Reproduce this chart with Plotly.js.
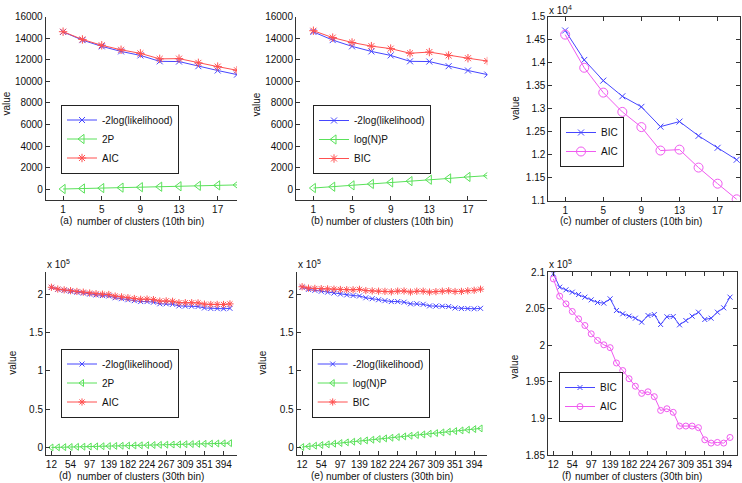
<!DOCTYPE html>
<html><head><meta charset="utf-8">
<script src="https://cdn.plot.ly/plotly-3.0.1.min.js"></script>
<style>html,body{margin:0;padding:0;background:#fff}#chart{width:742px;height:483px}</style>
</head><body><div id="chart"></div>
<script>
// ---------- data: 10th bin ----------
const clusters10 = [1,3,5,7,9,11,13,15,17,19];
const negLL10 = [14590,13830,13250,12780,12410,11860,11840,11410,11010,10630];
const twoP10  = [21,63,105,147,189,231,273,315,357,399];
const logNP10 = [110,230,360,490,630,750,880,1000,1140,1260];
const AIC10   = [14610,13890,13350,12930,12600,12090,12110,11720,11370,11030];
const BIC10   = [14700,14060,13610,13270,13040,12610,12720,12410,12150,11890];
const xTicks10 = [1,5,9,13,17];

// ---------- data: 30th bin ----------
const clusters30 = [12,26.14,40.29,54.43,68.57,82.71,96.86,111,125.14,139.29,153.43,167.57,181.71,195.86,210,
  224.14,238.29,252.43,266.57,280.71,294.86,309,323.14,337.29,351.43,365.57,379.71,393.86,408];
const negLL30 = [208930,206360,205110,203870,202660,201550,200200,199090,198300,197710,195410,194180,192860,191630,190450,
  190470,189600,187520,187540,186850,184770,184570,184370,183950,182090,181440,181330,181040,181610];
const twoP30 = [170,370,570,770,970,1170,1380,1580,1780,1980,2180,2380,2580,2780,2980,
  3180,3380,3580,3790,3990,4190,4390,4590,4790,4990,5190,5390,5590,5790];
const logNP30 = [740,1600,2470,3340,4200,5070,5940,6800,7670,8540,9400,10270,11140,12010,12870,
  13740,14610,15470,16340,17210,18080,18940,19810,20680,21540,22410,23280,24140,25010];
const AIC30 = [209100,206730,205680,204640,203630,202720,201580,200670,200080,199690,197590,196560,195440,194410,193430,
  193650,192980,191100,191330,190840,188960,188960,188960,188740,187080,186630,186720,186630,187400];
const BIC30 = [209790,207960,207600,207280,206960,206600,206230,205870,205780,206370,204770,204320,204000,203720,203180,
  204090,204220,202860,203910,203950,202810,203400,204000,204540,203540,203720,204540,205140,206600];
const xTickVals30 = [12,54.43,96.86,139.29,181.71,224.14,266.57,309,351.43,393.86];
const xTickText30 = ['12','54','97','139','182','224','267','309','351','394'];

// tick labels
const yTickVals1 = [0,2000,4000,6000,8000,10000,12000,14000,16000];
const yTickText1 = ['0','2000','4000','6000','8000','10000','12000','14000','16000'];
const yTickVals3 = [11000,11500,12000,12500,13000,13500,14000,14500,15000];
const yTickText3 = ['1.1','1.15','1.2','1.25','1.3','1.35','1.4','1.45','1.5'];
const yTickVals4 = [0,50000,100000,150000,200000];
const yTickText4 = ['0','0.5','1','1.5','2'];
const yTickVals6 = [185000,190000,195000,200000,205000,210000];
const yTickText6 = ['1.85','1.9','1.95','2','2.05','2.1'];

const W = 742, H = 483;
const px = v => v / W, py = v => 1 - v / H;
const BLUE = 'rgb(70,70,255)', GREEN = 'rgb(90,225,90)', RED = 'rgb(255,80,80)', MAG = 'rgb(240,90,240)';
const FONT = 'Liberation Sans, Arial, Helvetica, sans-serif';

function tr(x, y, name, color, symbol, size, ax, leg) {
  return {x: x, y: y, name: name, type: 'scatter', mode: 'lines+markers',
    line: {color: color, width: 1},
    marker: {symbol: symbol, size: size, color: color, line: {color: color, width: 1}},
    xaxis: 'x' + (ax === 1 ? '' : ax), yaxis: 'y' + (ax === 1 ? '' : ax),
    legend: leg};
}

const traces = [
  tr(clusters10, negLL10, '-2log(likelihood)', BLUE, 'x-thin-open', 6, 1, 'legend'),
  tr(clusters10, twoP10, '2P', GREEN, 'triangle-left-open', 8, 1, 'legend'),
  tr(clusters10, AIC10, 'AIC', RED, 'asterisk-open', 7, 1, 'legend'),

  tr(clusters10, negLL10, '-2log(likelihood)', BLUE, 'x-thin-open', 6, 2, 'legend2'),
  tr(clusters10, logNP10, 'log(N)P', GREEN, 'triangle-left-open', 8, 2, 'legend2'),
  tr(clusters10, BIC10, 'BIC', RED, 'asterisk-open', 7, 2, 'legend2'),

  tr(clusters10, BIC10, 'BIC', BLUE, 'x-thin-open', 6, 3, 'legend3'),
  tr(clusters10, AIC10, 'AIC', MAG, 'circle-open', 9, 3, 'legend3'),

  tr(clusters30, negLL30, '-2log(likelihood)', BLUE, 'x-thin-open', 5, 4, 'legend4'),
  tr(clusters30, twoP30, '2P', GREEN, 'triangle-left-open', 6, 4, 'legend4'),
  tr(clusters30, AIC30, 'AIC', RED, 'asterisk-open', 6, 4, 'legend4'),

  tr(clusters30, negLL30, '-2log(likelihood)', BLUE, 'x-thin-open', 5, 5, 'legend5'),
  tr(clusters30, logNP30, 'log(N)P', GREEN, 'triangle-left-open', 6, 5, 'legend5'),
  tr(clusters30, BIC30, 'BIC', RED, 'asterisk-open', 6, 5, 'legend5'),

  tr(clusters30, BIC30, 'BIC', BLUE, 'x-thin-open', 5, 6, 'legend6'),
  tr(clusters30, AIC30, 'AIC', MAG, 'circle-open', 6, 6, 'legend6')
];

function axis(domain, range, extra, box, anchor) {
  return Object.assign({
    domain: domain, range: range, anchor: anchor,
    showgrid: false, zeroline: false, showline: true, linecolor: '#333', linewidth: 1,
    ticks: 'inside', ticklen: 4, tickcolor: '#333', tickwidth: 1,
    mirror: box ? 'ticks' : false, tickangle: 0,
    tickfont: {family: FONT, size: 10, color: '#111'}, fixedrange: true
  }, extra);
}

const topY = [py(200), py(16.7)];
const botY = [py(454.5), py(272)];
const xRange10 = [-0.8, 19.0];
const xRange30 = [0, 423];

function legendAt(xl, yc) {
  return {x: px(xl), y: py(yc), xanchor: 'left', yanchor: 'middle',
    bgcolor: '#fff', bordercolor: '#222', borderwidth: 1,
    font: {family: FONT, size: 10, color: '#111'}, itemwidth: 30};
}

const ann = [];
function txt(x, y, t, opts) {
  ann.push(Object.assign({xref: 'paper', yref: 'paper', x: px(x), y: py(y), text: t, showarrow: false,
    font: {family: FONT, size: 10, color: '#111'}, xanchor: 'center', yanchor: 'middle'}, opts || {}));
}
// sub-labels and x titles
txt(66.3, 221, '(a)'); txt(140.5, 221.5, 'number of clusters (10th bin)');
txt(316.7, 221, '(b)'); txt(390, 221.5, 'number of clusters (10th bin)');
txt(565.5, 221, '(c)'); txt(638, 221.5, 'number of clusters (10th bin)');
txt(65.3, 475, '(d)'); txt(140, 476, 'number of clusters (30th bin)');
txt(316.7, 475, '(e)'); txt(390, 476, 'number of clusters (30th bin)');
txt(566, 475, '(f)'); txt(638.5, 476, 'number of clusters (30th bin)');
// y titles
txt(5.5, 104, 'value', {textangle: -90});
txt(255.5, 104, 'value', {textangle: -90});
txt(516, 108, 'value', {textangle: -90});
txt(11.7, 363, 'value', {textangle: -90});
txt(261.7, 363, 'value', {textangle: -90});
txt(515, 366.7, 'value', {textangle: -90});
// exponents
txt(546.7, 10, 'x 10<sup>4</sup>', {xanchor: 'left'});
txt(45, 264, 'x 10<sup>5</sup>', {xanchor: 'left'});
txt(295.7, 264, 'x 10<sup>5</sup>', {xanchor: 'left'});
txt(546.7, 264, 'x 10<sup>5</sup>', {xanchor: 'left'});

const layout = {
  width: W, height: H, margin: {l: 0, r: 0, t: 0, b: 0},
  paper_bgcolor: '#fff', plot_bgcolor: '#fff', showlegend: true,
  font: {family: FONT, size: 10, color: '#111'},
  xaxis:  axis([px(45.7), px(237)], xRange10, {tickvals: xTicks10}, false, 'y'),
  yaxis:  axis(topY, [-1000, 16000], {tickvals: yTickVals1, ticktext: yTickText1}, false, 'x'),
  xaxis2: axis([px(296), px(487.3)], xRange10, {tickvals: xTicks10}, false, 'y2'),
  yaxis2: axis(topY, [-1000, 16000], {tickvals: yTickVals1, ticktext: yTickText1}, false, 'x2'),
  xaxis3: axis([px(548.3), px(740)], [-0.77, 19.35], {tickvals: xTicks10}, true, 'y3'),
  yaxis3: axis([py(200.7), py(16.7)], [11000, 15000], {tickvals: yTickVals3, ticktext: yTickText3}, true, 'x3'),
  xaxis4: axis([px(46), px(236.7)], xRange30, {tickvals: xTickVals30, ticktext: xTickText30}, false, 'y4'),
  yaxis4: axis(botY, [-9000, 229000], {tickvals: yTickVals4, ticktext: yTickText4}, false, 'x4'),
  xaxis5: axis([px(296.7), px(487.3)], xRange30, {tickvals: xTickVals30, ticktext: xTickText30}, false, 'y5'),
  yaxis5: axis(botY, [-9000, 229000], {tickvals: yTickVals4, ticktext: yTickText4}, false, 'x5'),
  xaxis6: axis([px(548), px(736.7)], xRange30, {tickvals: xTickVals30, ticktext: xTickText30}, true, 'y6'),
  yaxis6: axis([py(455), py(272.3)], [185000, 210000], {tickvals: yTickVals6, ticktext: yTickText6}, true, 'x6'),
  legend:  legendAt(61, 139),
  legend2: legendAt(313, 139.5),
  legend3: legendAt(560, 142),
  legend4: legendAt(61, 383),
  legend5: legendAt(311.7, 383),
  legend6: legendAt(559, 397),
  annotations: ann
};

Plotly.newPlot('chart', traces, layout, {displayModeBar: false, staticPlot: true});
</script>
</body></html>
